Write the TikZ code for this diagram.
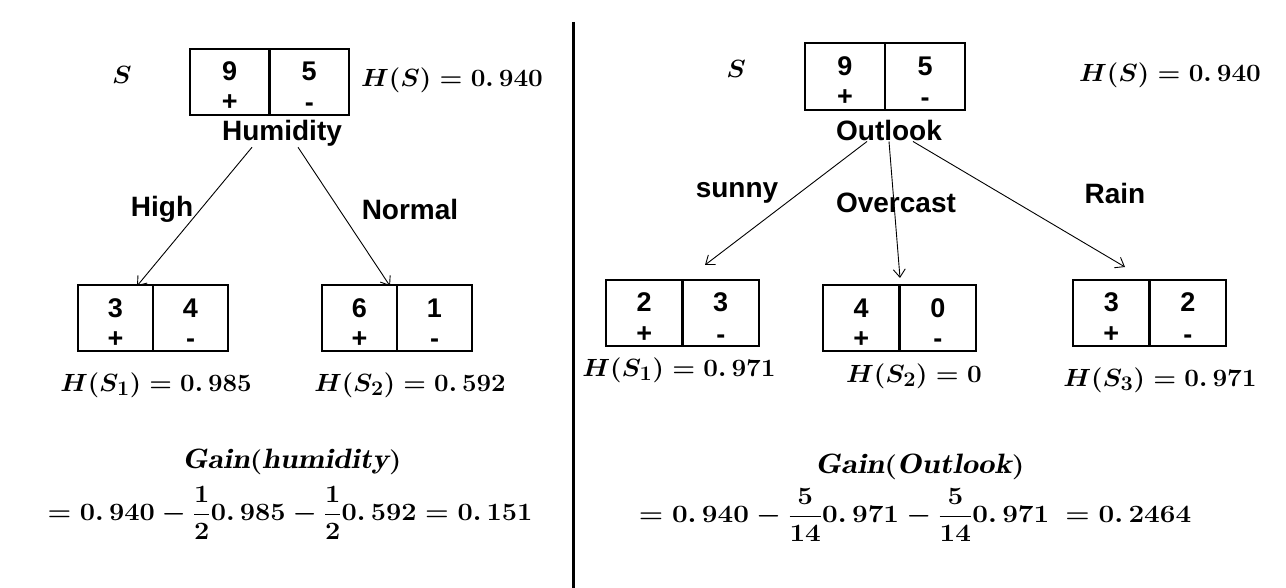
\documentclass[tikz,border=0pt]{standalone}
\usepackage{amsmath}
\usepackage{graphicx}
\usepackage{fontspec}
\newfontfamily\arialfont{Liberation Sans}
\usetikzlibrary{arrows.meta,calc}
\newcommand\dd{.\mkern3mu}
\newcommand\bmth[2]{\scalebox{#1}[1]{\boldmath$#2$}}
\newcommand\twocell[9]{%
  \node[cell, minimum width=#4pt, minimum height=#5pt] (#1a) at (#2-#4/2,#3) {};
  \node[cell, minimum width=#4pt, minimum height=#5pt] (#1b) at (#2+#4/2,#3) {};
  \node[num] (#1an) at ($(#1a)+(0,-1)$) {#6};
  \node[num] (#1as) at ($(#1a)+(0,29)$) {#7};
  \node[num] (#1bn) at ($(#1b)+(0,-1)$) {#8};
  \node[num] (#1bs) at ($(#1b)+(0,30)$) {#9};
}
\tikzset{
  cell/.style={draw, line width=2.6pt, inner sep=0},
  num/.style={inner sep=0, anchor=base, font=\arialfont\bfseries\fontsize{27}{30}\selectfont},
  lbl/.style={inner sep=0, font=\arialfont\bfseries\fontsize{28}{32}\selectfont},
  mth/.style={inner sep=0, font=\fontsize{28}{32}\selectfont},
  arr/.style={line width=0.9pt, -{Straight Barb[length=8pt,width=12pt]}},
  sep/.style={line width=3pt}
}
\begin{document}
\begin{tikzpicture}[x=1pt,y=-1pt]
\fill[white] (0,0) rectangle (1286,588);
\useasboundingbox (0,0) rectangle (1286,588);

% separator
\coordinate (sepT) at (573,22);
\coordinate (sepB) at (573,588);
\draw[sep] (sepT) -- (sepB);

% ---------------- left ----------------
\node[mth] (lS) at (122,75) {\bmth{1.05}{S}};
\twocell{lr}{269.5}{82}{79.5}{66}{9}{+}{5}{-}
\node[mth] (lHS) at (452,80) {\bmth{1.05}{H(S)=0\dd940}};
\node[lbl] (hum) at (282,133) {Humidity};
\node[lbl] (high) at (162,209) {High};
\node[lbl] (normal) at (410,209) {Normal};
\twocell{la}{153}{318}{75}{66}{3}{+}{4}{-}
\twocell{lb}{397}{318}{75}{66}{6}{+}{1}{-}
\node[mth] (lH1) at (156,385) {\bmth{1.04}{H(S_1)=0\dd985}};
\node[mth] (lH2) at (410,385) {\bmth{1.04}{H(S_2)=0\dd592}};
\coordinate (lend1) at (137,286);
\coordinate (lend2) at (390,286);
\draw[arr] ($(hum.south)+(-30,1)$) -- (lend1);
\draw[arr] ($(hum.south)+(16,1)$) -- (lend2);
\node[mth] (lgain) at (292,462) {\bmth{1.14}{\mathit{Gain}(\mathit{humidity})}};
\node[mth] (lform) at (290,513) {\bmth{1.09}{\displaystyle =0\dd940-\frac{1}{2}0\dd985-\frac{1}{2}0\dd592=0\dd151}};

% ---------------- right ----------------
\node[mth] (rS) at (736,69) {\bmth{1.05}{S}};
\twocell{rr}{885}{76.5}{80}{67}{9}{+}{5}{-}
\node[mth] (rHS) at (1170,75) {\bmth{1.05}{H(S)=0\dd940}};
\node[lbl] (out) at (889,130) {Outlook};
\node[lbl] (sunny) at (737,193) {sunny};
\node[lbl] (overcast) at (896,203) {Overcast};
\node[lbl] (rain) at (1115,193) {Rain};
\twocell{ra}{682.5}{313}{76.5}{66}{2}{+}{3}{-}
\twocell{rb}{899.5}{318}{76.5}{66}{4}{+}{0}{-}
\twocell{rc}{1149.5}{313}{76.5}{66}{3}{+}{2}{-}
\node[mth] (rH1) at (679,370) {\bmth{1.05}{H(S_1)=0\dd971}};
\node[mth] (rH2) at (914,376) {\bmth{1.05}{H(S_2)=0}};
\node[mth] (rH3) at (1160,380) {\bmth{1.05}{H(S_3)=0\dd971}};
\coordinate (rend1) at (705,265);
\coordinate (rend2) at (900,278);
\coordinate (rend3) at (1125,267);
\draw[arr] ($(out.south)+(-22,1)$) -- (rend1);
\draw[arr] ($(out.south)+(0,1)$) -- (rend2);
\draw[arr] ($(out.south)+(24,1)$) -- (rend3);
\node[mth] (rgain) at (920,467) {\bmth{1.17}{\mathit{Gain}(\mathit{Outlook})}};
\node[mth] (rform) at (915,515) {\bmth{1.12}{\displaystyle =0\dd940-\frac{5}{14}0\dd971-\frac{5}{14}0\dd971\:=0\dd2464}};
\end{tikzpicture}
\end{document}
